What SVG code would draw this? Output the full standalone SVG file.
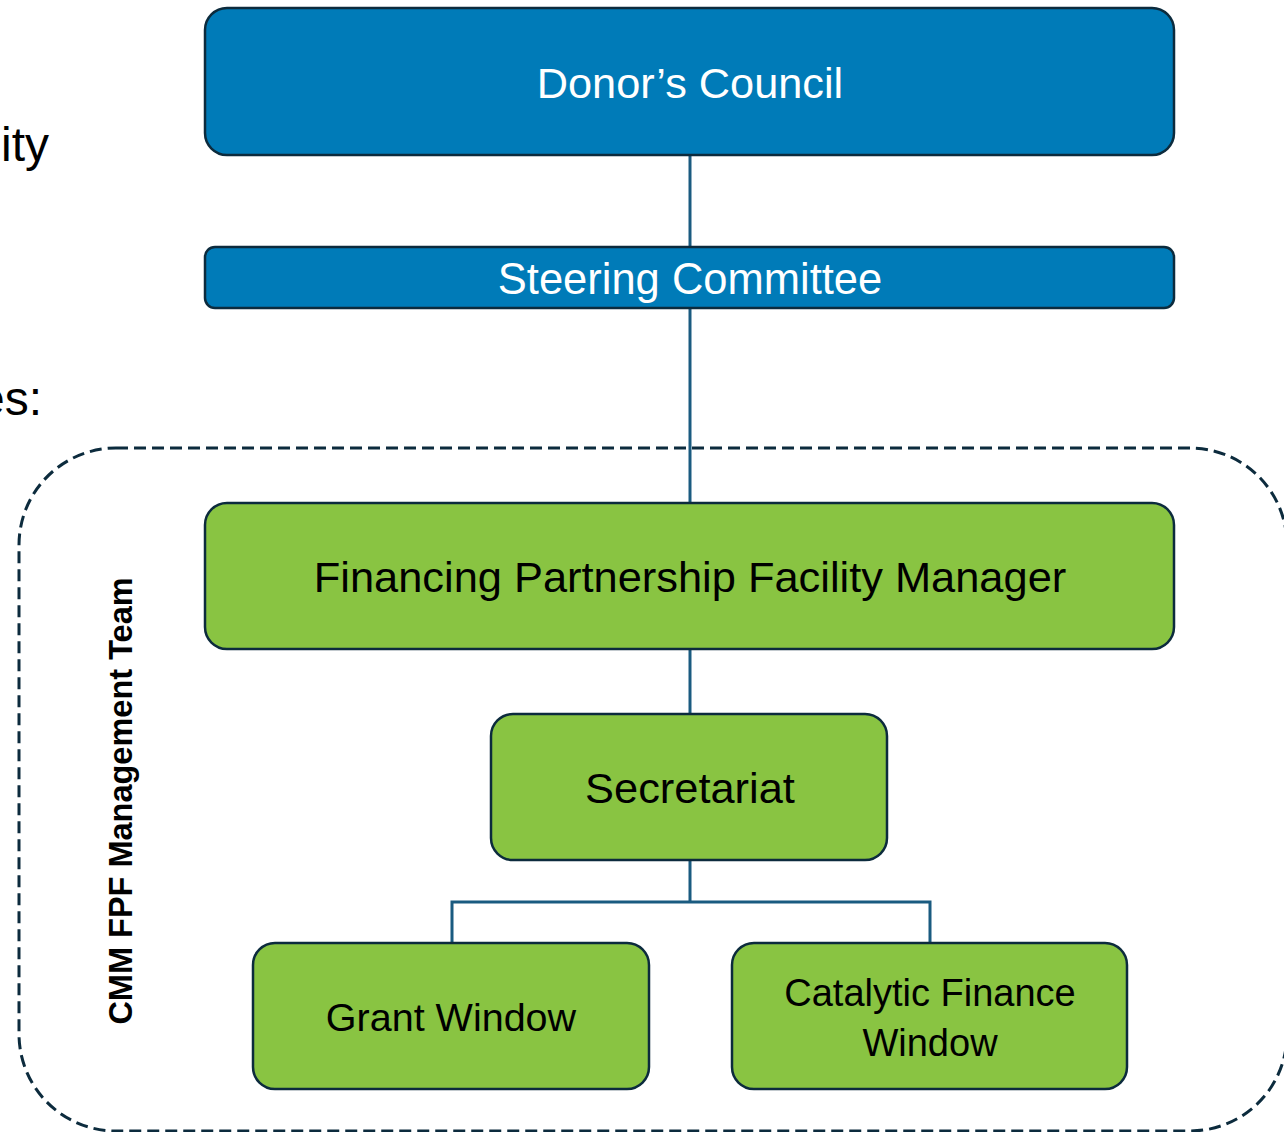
<svg xmlns="http://www.w3.org/2000/svg" width="1284" height="1132" viewBox="0 0 1284 1132">
  <style>
    .blue { fill: #007bb8; stroke: #0c2b3d; stroke-width: 2.5; }
    .green { fill: #89c442; stroke: #0c2b3d; stroke-width: 2.5; }
    .lbl { font-family: "Liberation Sans", Arial, sans-serif; text-anchor: middle; }
    .w { fill: #ffffff; }
    .k { fill: #000000; }
    .conn { fill: none; stroke: #1a5b80; stroke-width: 3; }
    .team { fill: none; stroke: #0c2b3d; stroke-width: 3; stroke-dasharray: 12 6; }
    .side { font-family: "Liberation Sans", Arial, sans-serif; fill: #000000; }
  </style>
  <rect width="1284" height="1132" fill="#ffffff"/>

  <!-- fragments of surrounding slide text -->
  <text class="side" x="1" y="161" font-size="48">ity</text>
  <text class="side" x="-22" y="415" font-size="48">es:</text>

  <!-- management team boundary -->
  <g id="team-boundary">
    <rect class="team" x="19" y="448" width="1268" height="683" rx="97" ry="97"/>
    <text class="lbl k" font-weight="bold" font-size="32.5" transform="translate(132,801) rotate(-90)">CMM FPF Management Team</text>
  </g>

  <!-- connectors -->
  <g id="connectors">
    <path class="conn" d="M690 155 V247"/>
    <path class="conn" d="M690 308 V503"/>
    <path class="conn" d="M690 649 V714"/>
    <path class="conn" d="M690 860 V902 M452 943 V902 H930 V943"/>
  </g>

  <g id="donors-council">
    <rect class="blue" x="205" y="8" width="969" height="147" rx="22"/>
    <text class="lbl w" x="690" y="98" font-size="43.3">Donor’s Council</text>
  </g>

  <g id="steering-committee">
    <rect class="blue" x="205" y="247" width="969" height="61" rx="10"/>
    <text class="lbl w" x="690" y="294" font-size="43.5">Steering Committee</text>
  </g>

  <g id="fpf-manager">
    <rect class="green" x="205" y="503" width="969" height="146" rx="22"/>
    <text class="lbl k" x="690" y="592" font-size="43.4">Financing Partnership Facility Manager</text>
  </g>

  <g id="secretariat">
    <rect class="green" x="491" y="714" width="396" height="146" rx="22"/>
    <text class="lbl k" x="690" y="803" font-size="43.4">Secretariat</text>
  </g>

  <g id="grant-window">
    <rect class="green" x="253" y="943" width="396" height="146" rx="22"/>
    <text class="lbl k" x="451" y="1031" font-size="39.5">Grant Window</text>
  </g>

  <g id="catalytic-finance-window">
    <rect class="green" x="732" y="943" width="395" height="146" rx="22"/>
    <text class="lbl k" x="930" y="1006" font-size="38">Catalytic Finance</text>
    <text class="lbl k" x="930" y="1056" font-size="38">Window</text>
  </g>
</svg>
